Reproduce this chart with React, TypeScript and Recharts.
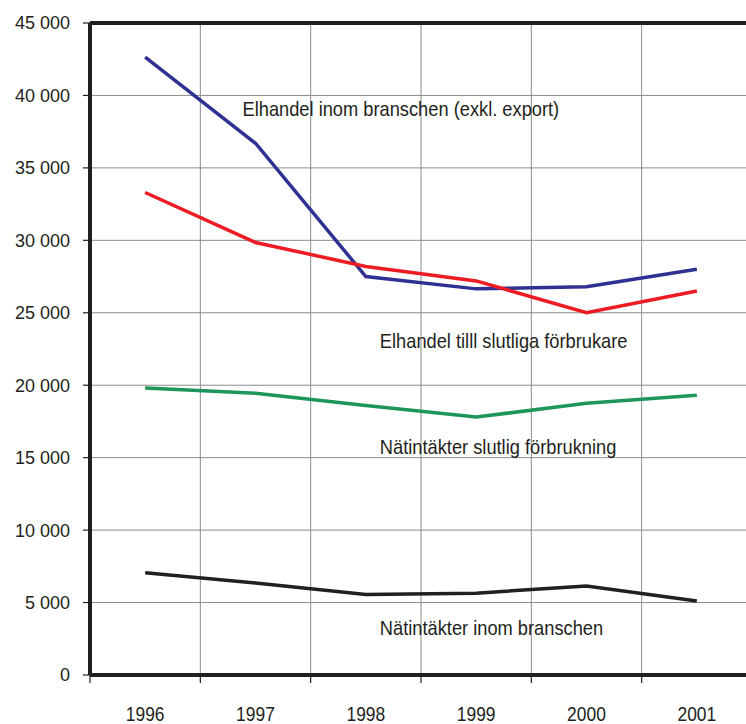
import { LineChart, Line, XAxis, YAxis, CartesianGrid, ReferenceLine, ReferenceDot } from "recharts";

// Years on the x axis
const years = ["1996", "1997", "1998", "1999", "2000", "2001"];

// Series values
const elhandelBransch = [42650, 36700, 27500, 26650, 26800, 28000];
const elhandelSlutlig = [33300, 29850, 28200, 27200, 25000, 26500];
const natSlutlig = [19800, 19450, 18600, 17800, 18750, 19300];
const natBransch = [7050, 6350, 5550, 5650, 6150, 5100];

const yTicks = [0, 5000, 10000, 15000, 20000, 25000, 30000, 35000, 40000, 45000];

// Annotations: text, anchor year, anchor value, x shift from the year
const labelTexts = [
  "Elhandel inom branschen (exkl. export)",
  "Elhandel tilll slutliga förbrukare",
  "Nätintäkter slutlig förbrukning",
  "Nätintäkter inom branschen",
];
const labelYears = ["1997", "1998", "1998", "1998"];
const labelValues = [39100, 23100, 15750, 3300];
const labelShift = [-13, 14, 14, 14];

const data = years.map((y, i) => ({
  year: y,
  a: elhandelBransch[i],
  b: elhandelSlutlig[i],
  c: natSlutlig[i],
  d: natBransch[i],
}));

const CHART_W = 756;
const CHART_H = 724;
const MARGIN = { top: 23, right: 4, left: 0, bottom: 0 };
const Y_W = 90;
const BAND = (CHART_W - Y_W - MARGIN.right) / years.length;

// no narrow font installed, so squeeze a regular one horizontally
const FONT = "'Liberation Sans', Arial, sans-serif";
const SQUEEZE = 0.87;
const AXIS = "#231f20";

const fmt = (v: number) => (v === 0 ? "0" : String(v).replace(/\B(?=(\d{3})+(?!\d))/g, " "));

function YearTick(props: any) {
  const { x, y, payload } = props;
  const half = payload?.offset || BAND / 2;
  return (
    <g>
      <line x1={x - half} x2={x - half} y1={y} y2={y + 8} stroke={AXIS} strokeWidth={1.2} />
      <text
        x={0}
        y={0}
        transform={`translate(${x},${y + 46}) scale(0.83,1)`}
        textAnchor="middle"
        fontFamily={FONT}
        fontSize={21}
        fill="#231f20"
      >
        {payload.value}
      </text>
    </g>
  );
}

function makeLabel(i: number) {
  return (props: any) => {
    const vb = props.viewBox || {};
    return (
      <text
        x={0}
        y={0}
        transform={`translate(${vb.x + labelShift[i]},${vb.y}) scale(${SQUEEZE},1)`}
        dominantBaseline="central"
        fontFamily={FONT}
        fontSize={21}
        fill="#231f20"
      >
        {labelTexts[i]}
      </text>
    );
  };
}

export default function App() {
  return (
    <div style={{ position: "absolute", left: 0, top: 0, width: 746, height: 724, overflow: "hidden", background: "#fff" }}>
      <LineChart width={CHART_W} height={CHART_H} data={data} margin={MARGIN}>
        <CartesianGrid
          stroke="#8c8c8c"
          strokeWidth={1}
          verticalCoordinatesGenerator={({ offset }: any) =>
            years.slice(1).map((_, i) => offset.left + ((i + 1) * offset.width) / years.length)
          }
        />
        <XAxis
          dataKey="year"
          scale="band"
          height={CHART_H - 675}
          axisLine={{ stroke: AXIS, strokeWidth: 4 }}
          tickLine={false}
          tickSize={0}
          tickMargin={0}
          interval={0}
          tick={<YearTick />}
        />
        <YAxis
          width={Y_W}
          domain={[0, 45000]}
          ticks={yTicks}
          interval={0}
          tickFormatter={fmt}
          axisLine={{ stroke: AXIS, strokeWidth: 4 }}
          tickLine={{ stroke: AXIS, strokeWidth: 1.2 }}
          tickSize={7}
          tickMargin={13}
          tick={{ fontFamily: FONT, fontSize: 18, fill: "#231f20" }}
        />
        <ReferenceLine y={45000} stroke={AXIS} strokeWidth={4} />
        <Line dataKey="a" stroke="#2e3192" strokeWidth={3.5} dot={false} isAnimationActive={false} />
        <Line dataKey="b" stroke="#ed1c24" strokeWidth={3.5} dot={false} isAnimationActive={false} />
        <Line dataKey="c" stroke="#1e965a" strokeWidth={3.5} dot={false} isAnimationActive={false} />
        <Line dataKey="d" stroke="#231f20" strokeWidth={3.5} dot={false} isAnimationActive={false} />
        {labelTexts.map((t, i) => (
          <ReferenceDot
            key={t}
            x={labelYears[i]}
            y={labelValues[i]}
            r={0}
            fill="none"
            stroke="none"
            ifOverflow="visible"
            label={makeLabel(i)}
          />
        ))}
      </LineChart>
    </div>
  );
}
